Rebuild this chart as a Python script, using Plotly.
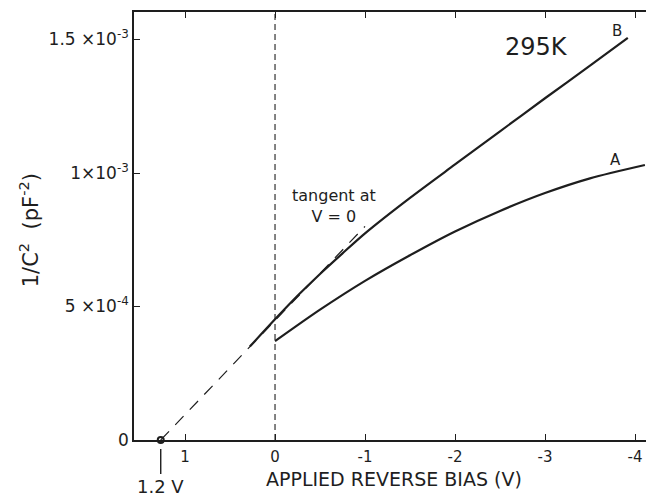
import plotly.graph_objects as go

# ---- data (applied bias in V, 1/C^2 in pF^-2) ----
bias_B = [0.28, 0.0, -0.25, -0.5, -0.75, -1.0, -1.5, -2.0, -2.5, -3.0, -3.5, -3.92]
inv_c2_B = [0.350e-3, 0.452e-3, 0.540e-3, 0.622e-3, 0.699e-3, 0.774e-3, 0.907e-3,
            1.032e-3, 1.156e-3, 1.280e-3, 1.402e-3, 1.506e-3]

bias_A = [0.0, -0.5, -1.0, -1.5, -2.0, -2.5, -3.0, -3.5, -4.11]
inv_c2_A = [0.370e-3, 0.488e-3, 0.596e-3, 0.692e-3, 0.781e-3, 0.858e-3, 0.925e-3,
            0.980e-3, 1.030e-3]

tangent_bias = [1.27, -1.0]
tangent_val = [0.0, 0.80e-3]

intercept_bias = [1.27]
intercept_val = [0.0]

x_tickvals = [1, 0, -1, -2, -3, -4]
x_ticktext = ["1", "0", "-1", "-2", "-3", "-4"]
y_tickvals = [0, 5e-4, 1e-3, 1.5e-3]
y_ticktext = ["0", "5 ×10<sup>-4</sup>", "1×10<sup>-3</sup>", "1.5 ×10<sup>-3</sup>"]

INK = "#1e1e1e"
FONT = "DejaVu Sans"

fig = go.Figure()

fig.add_trace(go.Scatter(x=tangent_bias, y=tangent_val, mode="lines",
                         line=dict(color=INK, width=1.2, dash="12px,9px"),
                         showlegend=False, hoverinfo="skip"))
fig.add_trace(go.Scatter(x=bias_B, y=inv_c2_B, mode="lines",
                         line=dict(color=INK, width=2.2, shape="spline", smoothing=0.8),
                         showlegend=False))
fig.add_trace(go.Scatter(x=bias_A, y=inv_c2_A, mode="lines",
                         line=dict(color=INK, width=2.2, shape="spline", smoothing=0.8),
                         showlegend=False))
fig.add_trace(go.Scatter(x=intercept_bias, y=intercept_val, mode="markers",
                         marker=dict(symbol="circle-open", size=6, color=INK,
                                     line=dict(width=2, color=INK)),
                         cliponaxis=False, showlegend=False))
# invisible trace to anchor right-hand tick axis
fig.add_trace(go.Scatter(x=bias_A[:1], y=inv_c2_A[:1], yaxis="y2", mode="markers",
                         marker=dict(opacity=0), showlegend=False, hoverinfo="skip"))

fig.add_vline(x=0, line=dict(color=INK, width=1.1, dash="6px,4px"))

# the page body adds an 8px offset, so the figure is 8px smaller than the window
fig.update_layout(
    width=646, height=489,
    margin=dict(l=126, r=0, t=4, b=57),
    paper_bgcolor="white", plot_bgcolor="white",
    font=dict(family=FONT, color=INK, size=14),
    xaxis=dict(range=[1.567, -4.211], tickvals=x_tickvals, ticktext=x_ticktext,
               ticks="inside", ticklen=6, tickwidth=1.2, tickcolor=INK,
               showline=True, linecolor=INK, linewidth=1.6, mirror="ticks",
               showgrid=False, zeroline=False, tickfont=dict(size=15),
               ticklabelstandoff=2),
    yaxis=dict(range=[0, 1.603e-3], tickvals=y_tickvals, ticktext=y_ticktext,
               ticks="inside", ticklen=6, tickwidth=1.2, tickcolor=INK,
               showline=True, linecolor=INK, linewidth=1.6, mirror=False,
               showgrid=False, zeroline=False, tickfont=dict(size=17)),
    yaxis2=dict(range=[0, 1.603e-3], overlaying="y", side="right",
                tickvals=y_tickvals[1:], ticks="inside", ticklen=6, tickwidth=1.2,
                tickcolor=INK, showticklabels=False, showline=False,
                showgrid=False, zeroline=False),
    showlegend=False,
)

fig.add_annotation(text="APPLIED REVERSE BIAS (V)", xref="paper", yref="paper",
                   x=0.5, y=0, yshift=-39, xanchor="center", yanchor="middle",
                   showarrow=False, font=dict(size=19))
fig.add_annotation(text="1/C<sup>2</sup>  (pF<sup>-2</sup>)", textangle=-90,
                   xref="paper", yref="paper", x=0, y=0.49, xshift=-105,
                   xanchor="center", yanchor="middle",
                   showarrow=False, font=dict(size=21))
fig.add_annotation(text="295K", x=-2.91, y=1.472e-3, showarrow=False, font=dict(size=24))
fig.add_annotation(text="B", x=-3.8, y=1.53e-3, showarrow=False, font=dict(size=15))
fig.add_annotation(text="A", x=-3.78, y=1.05e-3, showarrow=False, font=dict(size=15))
fig.add_annotation(text="tangent at<br>V = 0", x=-0.66, y=0.875e-3, showarrow=False,
                   font=dict(size=16), align="center")
fig.add_annotation(text="1.2 V", x=1.27, y=0, ax=0, ay=46, showarrow=True,
                   arrowhead=0, arrowwidth=1.4, arrowcolor=INK, standoff=9,
                   font=dict(size=18))

fig.write_html("out.html")
